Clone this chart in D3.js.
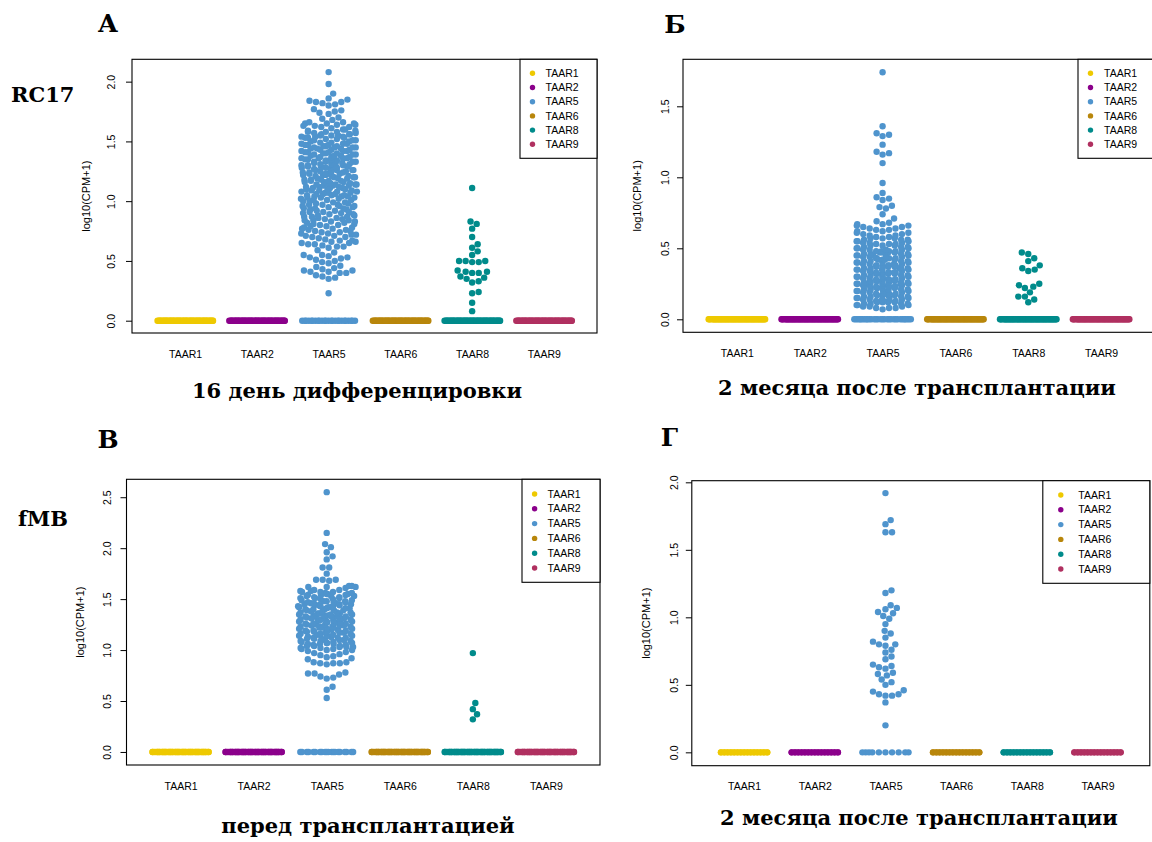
<!DOCTYPE html>
<html>
<head>
<meta charset="utf-8">
<script src="https://cdn.jsdelivr.net/npm/d3@7"></script>
<style>
  body { margin: 0; background: #fff; }
  .tick text { font-family: "Liberation Sans", Arial, sans-serif; }
</style>
</head>
<body>
<script>
// genes and colours (same for every panel)
const genes = ["TAAR1", "TAAR2", "TAAR5", "TAAR6", "TAAR8", "TAAR9"];
const geneColors = ["#EEC900", "#8B008B", "#4F94CD", "#B8860B", "#008B8B", "#B03060"];

// y tick values per panel
const ticksA = [0, 0.5, 1, 1.5, 2];
const ticksB = [0, 0.5, 1, 1.5];
const ticksV = [0, 0.5, 1, 1.5, 2, 2.5];
const ticksG = [0, 0.5, 1, 1.5, 2];

// number of cells with log10(CPM+1) = 0, per gene
const zerosA = [60, 60, 25, 60, 60, 60];
const zerosB = [60, 60, 30, 60, 60, 60];
const zerosV = [60, 60, 20, 60, 60, 60];
const zerosG = [30, 30, 10, 30, 30, 30];

// non-zero values
const taar5A = [
  2.08, 1.98, 1.90, 1.86, 1.85, 1.84, 1.83, 1.81, 1.82, 1.80, 1.83,
  1.77, 1.76, 1.75, 1.74, 1.73, 1.70,
  1.69, 1.68, 1.66, 1.65, 1.65, 1.64, 1.66, 1.63, 1.65, 1.62, 1.64, 1.61, 1.60, 1.63, 1.62, 1.60,
  1.59, 1.58, 1.57, 1.56, 1.55, 1.54, 1.53, 1.52, 1.51, 1.50, 1.58, 1.56, 1.54, 1.53, 1.51, 1.55, 1.57, 1.52, 1.50, 1.59, 1.54, 1.56, 1.53, 1.51, 1.55, 1.58,
  1.49, 1.48, 1.47, 1.46, 1.45, 1.44, 1.43, 1.42, 1.41, 1.40, 1.49, 1.47, 1.45, 1.43, 1.41, 1.48, 1.46, 1.44, 1.42, 1.40, 1.47, 1.45, 1.43, 1.41, 1.46, 1.44, 1.42, 1.48, 1.40, 1.45,
  1.39, 1.38, 1.37, 1.36, 1.35, 1.34, 1.33, 1.32, 1.31, 1.30, 1.39, 1.37, 1.35, 1.33, 1.31, 1.38, 1.36, 1.34, 1.32, 1.30, 1.39, 1.36, 1.33, 1.30, 1.37, 1.34, 1.31, 1.38, 1.35, 1.32, 1.36, 1.33,
  1.29, 1.28, 1.27, 1.26, 1.25, 1.24, 1.23, 1.22, 1.21, 1.20, 1.29, 1.27, 1.25, 1.23, 1.21, 1.28, 1.26, 1.24, 1.22, 1.20, 1.29, 1.26, 1.23, 1.20, 1.27, 1.24, 1.21, 1.28, 1.25, 1.22, 1.26, 1.23,
  1.19, 1.18, 1.17, 1.16, 1.15, 1.14, 1.13, 1.12, 1.11, 1.10, 1.19, 1.17, 1.15, 1.13, 1.11, 1.18, 1.16, 1.14, 1.12, 1.10, 1.19, 1.16, 1.13, 1.10, 1.17, 1.14, 1.11, 1.18, 1.15, 1.12, 1.14,
  1.09, 1.08, 1.07, 1.06, 1.05, 1.04, 1.03, 1.02, 1.01, 1.00, 1.09, 1.07, 1.05, 1.03, 1.01, 1.08, 1.06, 1.04, 1.02, 1.00, 1.09, 1.06, 1.03, 1.07, 1.04, 1.01, 1.08, 1.05,
  0.99, 0.98, 0.97, 0.96, 0.95, 0.94, 0.93, 0.92, 0.91, 0.90, 0.99, 0.97, 0.95, 0.93, 0.91, 0.98, 0.96, 0.94, 0.92, 0.90, 0.97, 0.94, 0.91, 0.96,
  0.89, 0.88, 0.87, 0.86, 0.85, 0.84, 0.83, 0.82, 0.81, 0.80, 0.89, 0.87, 0.85, 0.83, 0.81, 0.88, 0.86, 0.84, 0.82, 0.80, 0.87, 0.84,
  0.79, 0.78, 0.77, 0.76, 0.75, 0.74, 0.73, 0.72, 0.71, 0.70, 0.79, 0.77, 0.75, 0.73, 0.71, 0.78, 0.76, 0.74, 0.72, 0.70,
  0.69, 0.68, 0.67, 0.66, 0.65, 0.64, 0.63, 0.62, 0.61, 0.66, 0.64, 0.62, 0.67, 0.65,
  0.59, 0.57, 0.55, 0.54, 0.53, 0.52, 0.51, 0.55, 0.53, 0.50,
  0.49, 0.48, 0.46, 0.45, 0.44, 0.43, 0.42, 0.41, 0.40, 0.42, 0.41, 0.40,
  0.38, 0.37, 0.36, 0.35,
  0.23
];
const taar8A = [1.11, 0.83, 0.81, 0.77, 0.70, 0.64, 0.61, 0.58, 0.55, 0.50, 0.50, 0.49, 0.49, 0.50,
  0.42, 0.41, 0.41, 0.40, 0.40, 0.37, 0.36, 0.35, 0.33, 0.32, 0.24, 0.23, 0.15, 0.08];

const taar5B = [
  1.74, 1.36, 1.31, 1.30, 1.29, 1.23, 1.18, 1.17, 1.16, 1.10, 0.96, 0.89, 0.86, 0.85, 0.84, 0.80, 0.79, 0.78, 0.74, 0.71,
  0.69, 0.68, 0.67, 0.67, 0.66, 0.66, 0.65, 0.65, 0.64, 0.63, 0.62, 0.61, 0.60, 0.61, 0.62, 0.63, 0.60, 0.64,
  0.59, 0.58, 0.57, 0.56, 0.55, 0.54, 0.53, 0.52, 0.51, 0.50, 0.59, 0.57, 0.55, 0.53, 0.51, 0.58, 0.56, 0.54, 0.52, 0.50, 0.57, 0.54, 0.51, 0.56, 0.53, 0.50, 0.52, 0.55,
  0.49, 0.48, 0.47, 0.46, 0.45, 0.44, 0.43, 0.42, 0.41, 0.40, 0.49, 0.47, 0.45, 0.43, 0.41, 0.48, 0.46, 0.44, 0.42, 0.40, 0.49, 0.46, 0.43, 0.40, 0.48, 0.45, 0.42, 0.47, 0.44, 0.41, 0.46, 0.43, 0.48, 0.45, 0.42, 0.44, 0.47, 0.41, 0.49, 0.40,
  0.39, 0.38, 0.37, 0.36, 0.35, 0.34, 0.33, 0.32, 0.31, 0.30, 0.39, 0.37, 0.35, 0.33, 0.31, 0.38, 0.36, 0.34, 0.32, 0.30, 0.39, 0.36, 0.33, 0.30, 0.38, 0.35, 0.32, 0.37, 0.34, 0.31, 0.36, 0.33, 0.38, 0.35, 0.32, 0.34, 0.37, 0.31, 0.39, 0.30, 0.36, 0.33, 0.35, 0.32, 0.38,
  0.29, 0.28, 0.27, 0.26, 0.25, 0.24, 0.23, 0.22, 0.21, 0.20, 0.29, 0.27, 0.25, 0.23, 0.21, 0.28, 0.26, 0.24, 0.22, 0.20, 0.29, 0.26, 0.23, 0.20, 0.28, 0.25, 0.22, 0.27, 0.24, 0.21, 0.26, 0.23, 0.28, 0.25, 0.22, 0.24, 0.27, 0.21, 0.29, 0.20, 0.26, 0.23, 0.25, 0.22, 0.28, 0.24, 0.27, 0.21,
  0.19, 0.18, 0.17, 0.16, 0.15, 0.14, 0.13, 0.12, 0.11, 0.10, 0.19, 0.17, 0.15, 0.13, 0.11, 0.18, 0.16, 0.14, 0.12, 0.10, 0.19, 0.16, 0.13, 0.10, 0.18, 0.15, 0.12, 0.17, 0.14, 0.11, 0.16, 0.13, 0.18, 0.15, 0.12, 0.14, 0.17, 0.11,
  0.09, 0.08, 0.09, 0.08, 0.09, 0.07, 0.08
];
const taar8B = [0.47, 0.46, 0.43, 0.41, 0.38, 0.36, 0.35, 0.34, 0.25, 0.24, 0.23, 0.22, 0.19, 0.16, 0.16, 0.14, 0.12];

const taar5V = [
  2.55, 2.15, 2.04, 2.01, 1.96, 1.92, 1.89, 1.81, 1.81, 1.75, 1.69, 1.69, 1.68, 1.69,
  1.62, 1.63, 1.62, 1.61, 1.62, 1.63,
  1.59, 1.58, 1.57, 1.56, 1.55, 1.54, 1.53, 1.52, 1.51, 1.50, 1.59, 1.57, 1.55, 1.53, 1.51, 1.58, 1.56, 1.54, 1.52, 1.50, 1.57, 1.54, 1.51, 1.55, 1.53,
  1.49, 1.48, 1.47, 1.46, 1.45, 1.44, 1.43, 1.42, 1.41, 1.40, 1.49, 1.47, 1.45, 1.43, 1.41, 1.48, 1.46, 1.44, 1.42, 1.40, 1.47, 1.45, 1.43, 1.41, 1.46, 1.44, 1.42, 1.48, 1.40, 1.45,
  1.39, 1.38, 1.37, 1.36, 1.35, 1.34, 1.33, 1.32, 1.31, 1.30, 1.39, 1.37, 1.35, 1.33, 1.31, 1.38, 1.36, 1.34, 1.32, 1.30, 1.39, 1.36, 1.33, 1.30, 1.37, 1.34, 1.31, 1.38, 1.35, 1.32, 1.36, 1.33,
  1.29, 1.28, 1.27, 1.26, 1.25, 1.24, 1.23, 1.22, 1.21, 1.20, 1.29, 1.27, 1.25, 1.23, 1.21, 1.28, 1.26, 1.24, 1.22, 1.20, 1.29, 1.26, 1.23, 1.20, 1.27, 1.24, 1.21, 1.28, 1.25, 1.22, 1.26, 1.23,
  1.19, 1.18, 1.17, 1.16, 1.15, 1.14, 1.13, 1.12, 1.11, 1.10, 1.19, 1.17, 1.15, 1.13, 1.11, 1.18, 1.16, 1.14, 1.12, 1.10, 1.19, 1.16, 1.13, 1.10, 1.17, 1.14, 1.11, 1.18, 1.15, 1.12,
  1.09, 1.08, 1.07, 1.06, 1.05, 1.04, 1.03, 1.02, 1.01, 1.00, 1.09, 1.07, 1.05, 1.03, 1.01, 1.08, 1.06, 1.04, 1.02, 1.00, 1.09, 1.06, 1.03, 1.07, 1.04,
  0.99, 0.97, 0.95, 0.94, 0.92, 0.91, 0.98, 0.96, 0.93,
  0.88, 0.87, 0.87, 0.86, 0.87, 0.88,
  0.78, 0.77, 0.76, 0.77, 0.74, 0.73, 0.72,
  0.64, 0.61, 0.53
];
const taar8V = [0.97, 0.48, 0.42, 0.37, 0.32];

const taar5G = [1.92, 1.72, 1.69, 1.63, 1.63, 1.20, 1.18, 1.09, 1.07, 1.06, 1.04, 1.03, 1.01, 0.99, 0.95,
  0.90, 0.88, 0.85, 0.82, 0.80, 0.80, 0.79, 0.76, 0.74, 0.71, 0.69, 0.65, 0.64, 0.63, 0.62, 0.59, 0.58,
  0.57, 0.54, 0.52, 0.50, 0.46, 0.45, 0.43, 0.43, 0.42, 0.42, 0.37, 0.20];

// panel layout
const panels = [
  { letter: "А", side: "RC17", caption: "16 день дифференцировки",
    values: [[], [], taar5A, [], taar8A, []], zeros: zerosA, ticks: ticksA,
    yDomain: [-0.103, 2.187], box: {x0: 132, x1: 597, y0: 59.3, y1: 333}, corral: 0.79, tickGap: 21,
    legend: {w: 77, h: 99, dotDx: 12.5, textDx: 25.5, row0: 14, step: 14.2},
    letterPos: [108, 31.7], sidePos: [11, 101.7], captionPos: [357, 398] },
  { letter: "Б", side: null, caption: "2 месяца после трансплантации",
    values: [[], [], taar5B, [], taar8B, []], zeros: zerosB, ticks: ticksB,
    yDomain: [-0.0915, 1.831], box: {x0: 683, x1: 1155, y0: 59.3, y1: 332.3}, corral: 0.79, tickGap: 18,
    legend: {w: 77, h: 99, dotDx: 12.5, textDx: 26, row0: 14, step: 14.2},
    letterPos: [675, 33], sidePos: null, captionPos: [917, 395] },
  { letter: "В", side: "fMB", caption: "перед трансплантацией",
    values: [[], [], taar5V, [], taar8V, []], zeros: zerosV, ticks: ticksV,
    yDomain: [-0.128, 2.676], box: {x0: 126.5, x1: 600, y0: 479.3, y1: 765}, corral: 0.79, tickGap: 19,
    legend: {w: 78, h: 103, dotDx: 12.6, textDx: 25.5, row0: 14.7, step: 14.8},
    letterPos: [108, 448], sidePos: [18, 526], captionPos: [368, 833] },
  { letter: "Г", side: null, caption: "2 месяца после трансплантации",
    values: [[], [], taar5G, [], [], []], zeros: zerosG, ticks: ticksG,
    yDomain: [-0.099, 2.012], box: {x0: 691.8, x1: 1149.8, y0: 480.7, y1: 765.7}, corral: 0.70, tickGap: 17,
    legend: {w: 107, h: 102.6, dotDx: 18, textDx: 35.5, row0: 14.3, step: 14.8},
    letterPos: [669.5, 446], sidePos: null, captionPos: [919, 825] }
];

const dotR = 3.2;
const dotGap = 6.6;
const serif = "'DejaVu Serif', 'Liberation Serif', serif";
const sans = "'Liberation Sans', Arial, sans-serif";

let svg = d3.select("body").append("svg")
  .attr("width", 1152)
  .attr("height", 842);

// beeswarm "swarm" placement, ascending order, then wrapped into the corral
function swarm(vals, y, d, width) {
  let sorted = vals.slice().sort((a, b) => a - b);
  let placed = [];
  sorted.forEach(function(v) {
    let py = y(v);
    let near = placed.filter(p => Math.abs(p.y - py) < d);
    let cands = [0];
    near.forEach(function(p) {
      let off = Math.sqrt(d * d - (p.y - py) * (p.y - py));
      cands.push(p.x + off, p.x - off);
    });
    let best = null;
    cands.forEach(function(c) {
      let ok = near.every(p => (c - p.x) * (c - p.x) + (p.y - py) * (p.y - py) >= d * d - 1e-6);
      if (ok && (best === null || Math.abs(c) < Math.abs(best))) best = c;
    });
    placed.push({x: best, y: py, v: v});
  });
  placed.forEach(function(p) {
    let half = width / 2;
    let m = ((p.x + half) % width + width) % width;
    p.x = m - half;
  });
  return placed;
}

panels.forEach(function(P) {
  let b = P.box;
  let x = d3.scaleLinear().domain([0.26, 6.74]).range([b.x0, b.x1]);
  let y = d3.scaleLinear().domain(P.yDomain).range([b.y1, b.y0]);
  let corralPx = x(P.corral) - x(0);

  let g = svg.append("g");

  // points
  genes.forEach(function(gene, i) {
    let vals = P.values[i].concat(d3.range(P.zeros[i]).map(() => 0));
    let pts = swarm(vals, y, dotGap, corralPx);
    g.append("g").selectAll("circle")
      .data(pts)
      .enter().append("circle")
      .attr("cx", d => x(i + 1) + d.x)
      .attr("cy", d => y(d.v))
      .attr("r", dotR)
      .attr("fill", geneColors[i]);
  });

  // y axis with rotated labels
  let yAxis = d3.axisLeft(y)
    .tickValues(P.ticks)
    .tickFormat(d3.format(".1f"))
    .tickSize(6)
    .tickSizeOuter(0);
  let ya = g.append("g")
    .attr("transform", "translate(" + b.x0 + ",0)")
    .call(yAxis);
  ya.select(".domain").remove();
  ya.selectAll(".tick line").attr("stroke", "#000");
  ya.selectAll(".tick text")
    .attr("x", null)
    .attr("dy", "0.35em")
    .attr("transform", "translate(" + (-P.tickGap) + ",0) rotate(-90)")
    .style("text-anchor", "middle")
    .style("font-family", sans)
    .style("font-size", "10.5px")
    .attr("fill", "#000");

  // x labels
  let xAxis = d3.axisBottom(x)
    .tickValues([1, 2, 3, 4, 5, 6])
    .tickFormat(d => genes[d - 1])
    .tickSize(0);
  let xa = g.append("g")
    .attr("transform", "translate(0," + b.y1 + ")")
    .call(xAxis);
  xa.select(".domain").remove();
  xa.selectAll(".tick text")
    .attr("y", 21)
    .attr("dy", "0.35em")
    .style("font-family", sans)
    .style("font-size", "10.5px")
    .attr("fill", "#000");

  // y title
  g.append("text")
    .attr("transform", "translate(" + (b.x0 - 46) + "," + ((b.y0 + b.y1) / 2) + ") rotate(-90)")
    .attr("dy", "0.35em")
    .style("text-anchor", "middle")
    .style("font-family", sans)
    .style("font-size", "11px")
    .text("log10(CPM+1)");

  // plot box
  g.append("rect")
    .attr("x", b.x0).attr("y", b.y0)
    .attr("width", b.x1 - b.x0).attr("height", b.y1 - b.y0)
    .attr("fill", "none").attr("stroke", "#000").attr("stroke-width", 1.1);

  // legend
  let L = P.legend;
  let lg = g.append("g").attr("transform", "translate(" + (b.x1 - L.w) + "," + b.y0 + ")");
  lg.append("rect")
    .attr("width", L.w).attr("height", L.h)
    .attr("fill", "#fff").attr("stroke", "#000").attr("stroke-width", 1.1);
  let items = lg.selectAll(".legend")
    .data(genes)
    .enter().append("g")
    .attr("class", "legend")
    .attr("transform", (d, i) => "translate(0," + (L.row0 + i * L.step) + ")");
  items.append("circle")
    .attr("cx", L.dotDx).attr("r", 2.7)
    .attr("fill", (d, i) => geneColors[i]);
  items.append("text")
    .attr("x", L.textDx).attr("dy", "0.35em")
    .style("font-family", sans)
    .style("font-size", "10.5px")
    .text(d => d);

  // panel letter, row label, caption
  svg.append("text")
    .attr("x", P.letterPos[0]).attr("y", P.letterPos[1])
    .style("text-anchor", "middle")
    .style("font-family", serif).style("font-weight", "bold").style("font-size", "25px")
    .text(P.letter);
  if (P.side) {
    svg.append("text")
      .attr("x", P.sidePos[0]).attr("y", P.sidePos[1])
      .style("font-family", serif).style("font-weight", "bold").style("font-size", "21px")
      .text(P.side);
  }
  svg.append("text")
    .attr("x", P.captionPos[0]).attr("y", P.captionPos[1])
    .style("text-anchor", "middle")
    .style("font-family", serif).style("font-weight", "bold").style("font-size", "21px")
    .text(P.caption);
});
</script>
</body>
</html>
